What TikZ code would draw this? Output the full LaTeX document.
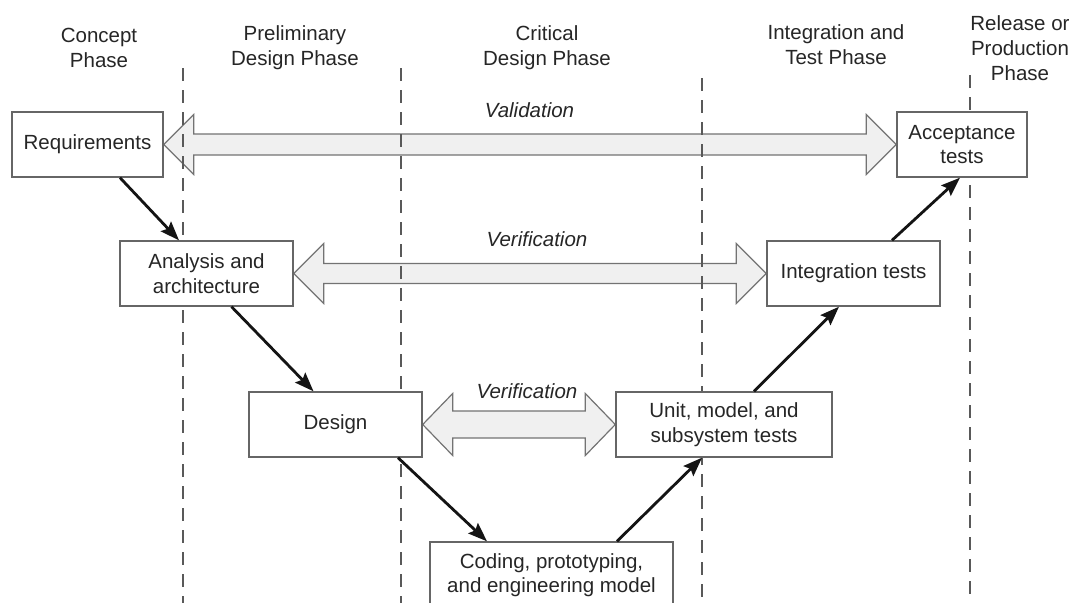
\documentclass[tikz,border=0pt]{standalone}
\usepackage{fontspec}
\setmainfont{Liberation Sans}
\usetikzlibrary{arrows.meta,calc,backgrounds}
\newcommand\vvdbl[5]{%
 \draw[dblarrow] (#1) -- ++(#3,-#4) -- ++(0,#4-#5) -- ($(#2)+(-#3,-#5)$) -- ++(0,#5-#4) -- (#2) -- ++(-#3,#4) -- ++(0,#5-#4) -- ($(#1)+(#3,#5)$) -- ++(0,#4-#5) -- cycle;}
\begin{document}
\begin{tikzpicture}[x=1pt,y=-1pt,
  txt/.style={font=\fontsize{20.5}{24.5}\selectfont, text=black!85, align=center, inner sep=0pt},
  phase/.style={font=\fontsize{20.5}{25}\selectfont, text=black!85, align=center, inner sep=0pt},
  vlabel/.style={font=\fontsize{20.5}{24}\selectfont\itshape, text=black!85, inner sep=0pt},
  stage/.style={draw=black!60, line width=1.4pt, fill=white, txt, minimum width=#1, minimum height=65pt},
  flow/.style={-{Stealth[length=19pt,width=14pt,inset=3pt]}, line width=2.8pt, draw=black!92},
  dblarrow/.style={draw=black!55, fill=black!6, line width=1.2pt, line join=miter},
  phaseline/.style={draw=black!65, line width=1.3pt, dash pattern=on 13pt off 9pt}]
\path[use as bounding box, clip] (0,0) rectangle (1072,603);

% phase titles
\node[phase] (p1) at (99,47.5) {Concept\\Phase};
\node[phase] (p2) at (295,47.5) {Preliminary\\Design Phase};
\node[phase] (p3) at (547,47.5) {Critical\\Design Phase};
\node[phase] (p4) at (836,45) {Integration and\\Test Phase};
\node[phase] (p5) at (1020,48) {Release or\\Production\\Phase};

% stages
\node[stage=151pt] (req) at (87.5,144.5) {Requirements};
\node[stage=173pt] (ana) at (206.5,273.5) {Analysis and\\architecture};
\node[stage=173pt] (des) at (335.5,424.5) {Design};
\node[stage=243pt, minimum height=66pt] (cod) at (551.5,575) {Coding, prototyping,\\and engineering model};
\node[stage=216pt] (unit) at (724,424.5) {Unit, model, and\\subsystem tests};
\node[stage=173pt] (int) at (853.5,273.5) {Integration tests};
\node[stage=130pt] (acc) at (962,144.5) {Acceptance\\tests};

% flow arrows
\draw[flow] ([xshift=32.5pt]req.south) -- ([xshift=-27.5pt]ana.north);
\draw[flow] ([xshift=25pt]ana.south) -- ([xshift=-22pt]des.north);
\draw[flow] ([xshift=62.5pt]des.south) -- ([xshift=-64.5pt]cod.north);
\draw[flow] ([xshift=65.5pt]cod.north) -- ([xshift=-22pt]unit.south);
\draw[flow] ([xshift=30pt]unit.north) -- ([xshift=-14.5pt]int.south);
\draw[flow] ([xshift=38.5pt]int.north) -- ([xshift=-2pt]acc.south);

% labels
\node[vlabel] (lv) at (529.5,110) {Validation};
\node[vlabel] (lv1) at (537,239) {Verification};
\node[vlabel] (lv2) at (527,391) {Verification};

\begin{scope}[on background layer]
  \fill[white] (0,0) rectangle (1072,603);
  \vvdbl{req.east}{acc.west}{30}{30}{10.5}
  \vvdbl{ana.east}{int.west}{30}{30}{10}
  \vvdbl{des.east}{unit.west}{30}{31}{13.5}
  \draw[phaseline] (183,68) -- (183,603);
  \draw[phaseline] (401,68) -- (401,603);
  \draw[phaseline] (702,78) -- (702,603);
  \draw[phaseline] (970,75) -- (970,603);
\end{scope}
\end{tikzpicture}
\end{document}
